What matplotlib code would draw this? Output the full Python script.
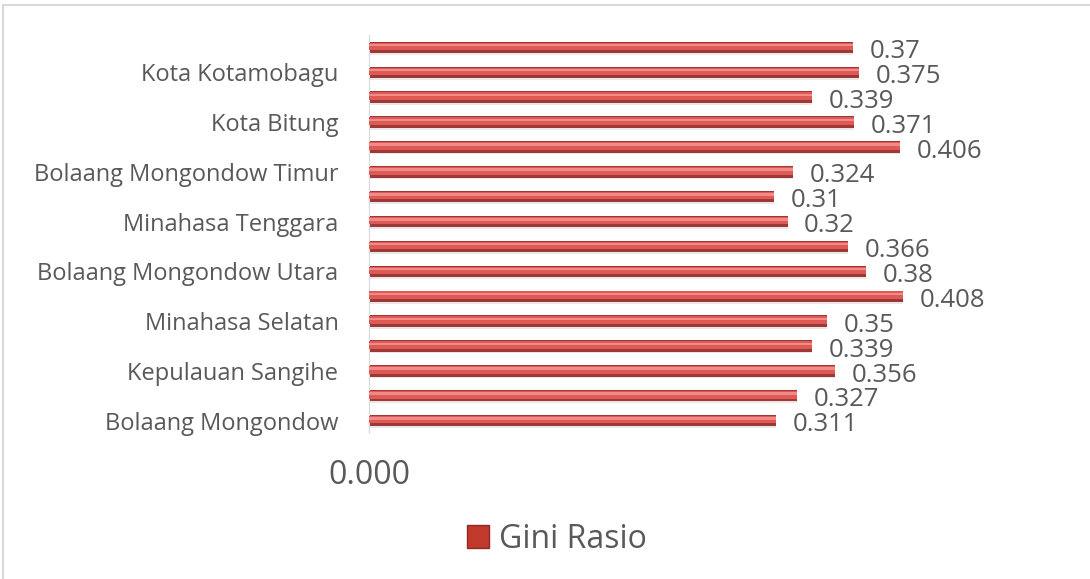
import numpy as np
import matplotlib
matplotlib.use('Agg')
import matplotlib.pyplot as plt
from matplotlib.lines import Line2D
from matplotlib.patches import Rectangle

# data (bottom -> top)
wilayah = ['Bolaang Mongondow', 'Minahasa', 'Kepulauan Sangihe', 'Kepulauan Talaud',
           'Minahasa Selatan', 'Minahasa Utara', 'Bolaang Mongondow Utara',
           'Kepulauan Siau Tagulandang Biaro', 'Minahasa Tenggara',
           'Bolaang Mongondow Selatan', 'Bolaang Mongondow Timur', 'Kota Manado',
           'Kota Bitung', 'Kota Tomohon', 'Kota Kotamobagu', 'Sulawesi Utara']
gini = [0.311, 0.327, 0.356, 0.339, 0.35, 0.408, 0.38, 0.366,
        0.32, 0.31, 0.324, 0.406, 0.371, 0.339, 0.375, 0.37]
nilai_label = ['0.311', '0.327', '0.356', '0.339', '0.35', '0.408', '0.38', '0.366',
               '0.32', '0.31', '0.324', '0.406', '0.371', '0.339', '0.375', '0.37']

plt.rcParams['font.family'] = ['Open Sans', 'DejaVu Sans']
abu = '#595959'

fig = plt.figure(figsize=[10.9, 5.79], dpi=100)
ax = fig.add_axes([0.3385, 0.252, 0.6, 0.6876])

y = np.arange(len(wilayah))
h = 0.46
# batang 3D sederhana: bayangan, badan gelap, sorotan terang
ax.barh(y - 0.07, gini, height=h, color='#d9d9d9', alpha=0.6, zorder=1)
ax.barh(y, gini, height=h, color='#9e3735', zorder=2)
ax.barh(y + 0.04, gini, height=h * 0.66, color='#de5a56', zorder=3)
ax.barh(y + 0.09, gini, height=h * 0.22, color='#f28a87', zorder=4)

for yi, v, s in zip(y, gini, nilai_label):
    ax.annotate(s, (v, yi), xytext=(12, -3), textcoords='offset points',
                ha='left', va='center', fontsize=18.5, color=abu)

ax.set_xlim(0, 0.5)
ax.set_ylim(-0.5, len(wilayah) - 0.5)
ax.set_yticks(y[::2])
ax.set_yticklabels(wilayah[::2], fontsize=17, color=abu)
ax.tick_params(axis='y', length=0, pad=22)
ax.set_xticks([0])
ax.set_xticklabels(['0.000'], fontsize=23, color=abu)
ax.tick_params(axis='x', length=0, pad=19)
for k in ['top', 'right', 'bottom']:
    ax.spines[k].set_visible(False)
ax.spines['left'].set_color('#d9d9d9')

# legenda
legend_handle = Rectangle((0, 0), 1, 1, facecolor='#c0392b', edgecolor='#8b2a28')
fig.legend([legend_handle], ['Gini Rasio'], loc='center', bbox_to_anchor=(0.511, 0.069),
           frameon=False, fontsize=23, labelcolor=abu, handlelength=0.7,
           handleheight=0.7, handletextpad=0.3)

# bingkai
fig.add_artist(Line2D([0.003, 1.0], [0.991, 0.991], color='#d9d9d9', lw=1.5))
fig.add_artist(Line2D([0.003, 0.003], [0.0, 0.991], color='#d9d9d9', lw=1.5))

fig.savefig('out.png', dpi=100)
